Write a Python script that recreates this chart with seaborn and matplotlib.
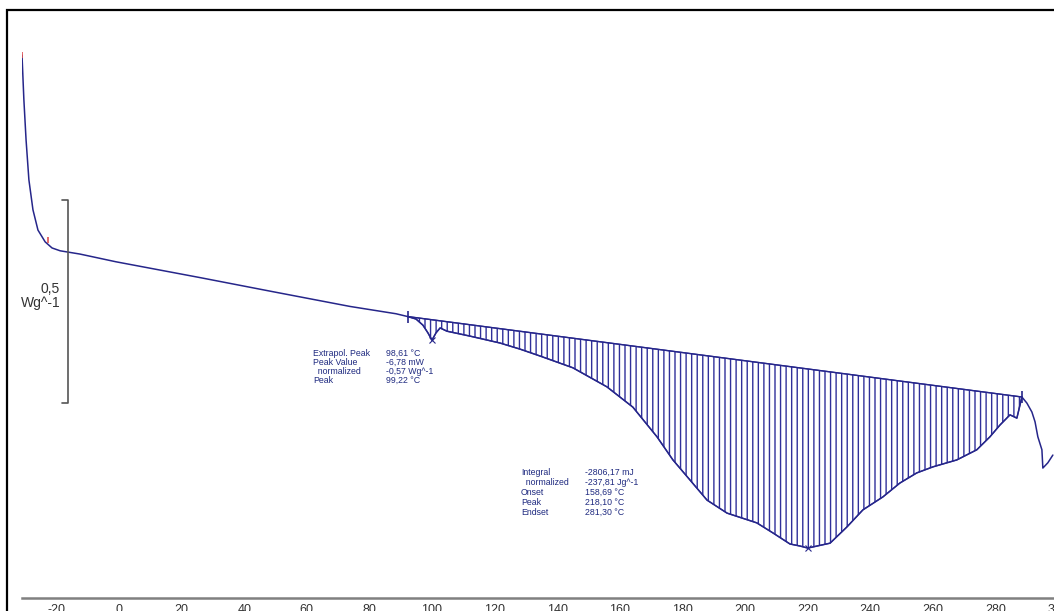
"""
dsc_plot.py — DSC heat-flow curve with the integrated endotherm
-----------------------------------------------------------------
Redraws the instrument printout: heat flow vs. temperature, the
small peak near 99 °C, the big hatched melting peak and the 0,5 Wg^-1
scale bar on the left.
"""

import numpy as np
import pandas as pd
import matplotlib
matplotlib.use("Agg")
import matplotlib.pyplot as plt
from matplotlib.patches import Rectangle
import seaborn as sns

# temperature (°C) and heat flow (W/g)
TEMP = [-31.0, -30.4, -29.7, -28.8, -27.5, -25.9, -23.6, -21.4, -18.8, -12.5,
        -1.0, 25.9, 48.7, 73.8, 88.5, 92.3, 94.9, 97.1, 98.7, 100.0,
        101.3, 102.6, 104.8, 112.1, 121.7, 128.1, 134.5, 145.0, 155.9, 164.2,
        171.9, 177.0, 182.4, 187.9, 194.3, 203.8, 209.0, 214.4, 217.6, 220.1,
        227.2, 232.6, 237.7, 244.1, 249.5, 254.9, 260.1, 267.7, 274.1, 278.3,
        281.5, 284.7, 286.9, 288.5, 290.1, 291.7, 292.7, 293.6, 294.9, 295.2,
        296.8, 298.4]
HEAT_FLOW = [0.603, 0.493, 0.394, 0.296, 0.222, 0.172, 0.143, 0.128, 0.121, 0.113,
             0.094, 0.055, 0.021, -0.016, -0.034, -0.041, -0.047, -0.062, -0.081, -0.099,
             -0.081, -0.069, -0.077, -0.089, -0.106, -0.121, -0.138, -0.167, -0.214, -0.264,
             -0.337, -0.394, -0.443, -0.493, -0.525, -0.549, -0.574, -0.601, -0.606, -0.611,
             -0.599, -0.559, -0.517, -0.485, -0.451, -0.426, -0.411, -0.394, -0.369, -0.337,
             -0.308, -0.283, -0.291, -0.239, -0.254, -0.276, -0.300, -0.337, -0.369, -0.414,
             -0.401, -0.382]

# integration baseline end points and the two peak markers
BASELINE_T = [92.3, 288.5]
BASELINE_HF = [-0.041, -0.239]
PEAK_T = [100.0, 220.1]
PEAK_HF = [-0.099, -0.611]
START_MARK_T = [-31.0, -22.7]
START_MARK_HF = [0.603, 0.148]

X_TICKS = list(range(-20, 301, 20))
MINOR_TICKS = list(range(-30, 301, 10))

PEAK1_LABELS = ["Extrapol. Peak", "Peak Value", "  normalized", "Peak"]
PEAK1_VALUES = ["98,61 °C", "-6,78 mW", "-0,57 Wg^-1", "99,22 °C"]
PEAK2_LABELS = ["Integral", "  normalized", "Onset", "Peak", "Endset"]
PEAK2_VALUES = ["-2806,17 mJ", "-237,81 Jg^-1", "158,69 °C", "218,10 °C", "281,30 °C"]

SCALE_VALUE = 0.5
SCALE_LABEL = "0,5\nWg^-1"

CURVE_COLOR = "#26268a"
HATCH_COLOR = "#30309a"
TEXT_COLOR = "#1f2a80"

W, H, DPI = 1054, 611, 100


def main():
    sns.set_style("white")
    plt.rcParams["font.family"] = ["Liberation Sans", "DejaVu Sans"]
    plt.rcParams["axes.unicode_minus"] = False
    plt.rcParams["hatch.linewidth"] = 1.0

    fig = plt.figure(figsize=(W / DPI, H / DPI), dpi=DPI)
    ax = fig.add_axes([22 / W, 13 / H, 1039 / W, 588 / H])
    ax.set_xlim(-31, 301)
    ax.set_ylim(-0.734, 0.714)

    df = pd.DataFrame({"T": TEMP, "hf": HEAT_FLOW})

    # hatched area between curve and straight baseline
    seg = df[(df["T"] >= BASELINE_T[0]) & (df["T"] <= BASELINE_T[1])]
    base = np.interp(seg["T"], BASELINE_T, BASELINE_HF)
    ax.fill_between(seg["T"], seg["hf"], base, facecolor="none",
                    edgecolor=HATCH_COLOR, hatch="|||", linewidth=0.9)
    sns.lineplot(x=BASELINE_T, y=BASELINE_HF, color=CURVE_COLOR, lw=1.0, ax=ax)

    sns.lineplot(data=df, x="T", y="hf", sort=False, estimator=None,
                 color=CURVE_COLOR, lw=1.1, ax=ax)

    ax.plot(PEAK_T, PEAK_HF, "x", color=CURVE_COLOR, ms=4, mew=0.8)
    ax.plot(BASELINE_T, BASELINE_HF, "|", color=CURVE_COLOR, ms=8, mew=1.2)
    ax.plot(START_MARK_T, START_MARK_HF, "|", color="#e05050", ms=5, mew=1.2)

    # scale bar
    bar_x, tick_x, bar_top = -16.3, -18.2, 0.246
    bar_bot = bar_top - SCALE_VALUE
    ax.plot([tick_x, bar_x, bar_x, tick_x], [bar_top, bar_top, bar_bot, bar_bot],
            color="#555555", lw=1.2)
    ax.text(-18.8, bar_top - SCALE_VALUE / 2 + 0.013, SCALE_LABEL, ha="right",
            va="center", multialignment="right", fontsize=10, color="#333333",
            linespacing=1.0)

    # peak annotations
    for i, (lab, val) in enumerate(zip(PEAK1_LABELS, PEAK1_VALUES)):
        y = -0.131 - i * 0.0222
        ax.text(62.0, y, lab, fontsize=6.3, color=TEXT_COLOR, va="center")
        ax.text(85.3, y, val, fontsize=6.3, color=TEXT_COLOR, va="center")
    for i, (lab, val) in enumerate(zip(PEAK2_LABELS, PEAK2_VALUES)):
        y = -0.424 - i * 0.0246
        ax.text(128.4, y, lab, fontsize=6.3, color=TEXT_COLOR, va="center")
        ax.text(148.9, y, val, fontsize=6.3, color=TEXT_COLOR, va="center")

    # axes: only a grey temperature axis at the bottom
    for side in ["top", "left", "right"]:
        ax.spines[side].set_visible(False)
    ax.spines["bottom"].set_color("#808080")
    ax.spines["bottom"].set_linewidth(1.8)
    ax.set_xticks(X_TICKS)
    ax.set_xticks(MINOR_TICKS, minor=True)
    ax.set_xticklabels([str(t) for t in X_TICKS])
    ax.set_yticks([])
    ax.tick_params(axis="x", which="both", direction="in", length=3,
                   width=1, color="#555555", pad=4, labelsize=9,
                   labelcolor="#333333")
    ax.set_xlabel("")
    ax.set_ylabel("")

    # printout frame
    fig.add_artist(Rectangle((7 / W, -0.05), 1.1, 1 - 10 / H + 0.05,
                             transform=fig.transFigure, fill=False,
                             ec="black", lw=1.6))

    fig.savefig("out.png", dpi=DPI)
    plt.close(fig)


if __name__ == "__main__":
    main()
